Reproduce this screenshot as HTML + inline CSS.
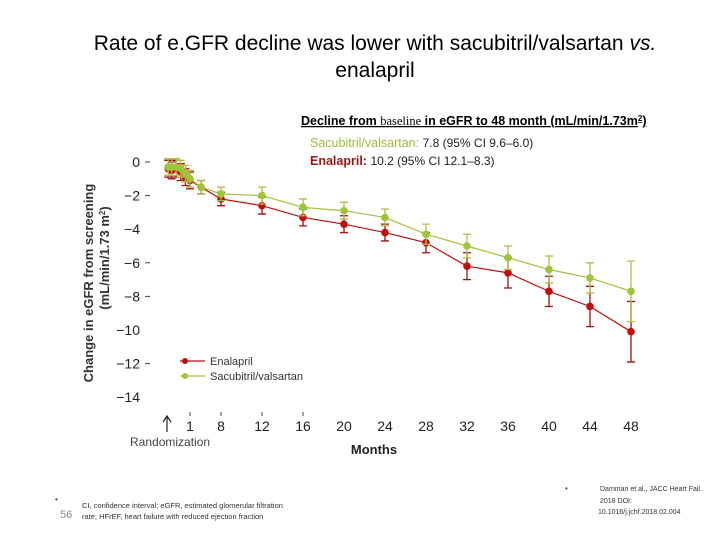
<!DOCTYPE html>
<html><head><meta charset="utf-8"><style>
body{margin:0;background:#fff;width:720px;height:540px;overflow:hidden;font-family:"Liberation Sans",sans-serif}
svg{position:absolute;left:0;top:0}
</style></head><body>
<svg width="720" height="540">
<g id="chart"></g>
</svg>
<script>
const months=[0.05,0.2,0.4,0.6,0.8,1,3.5,8,12,16,20,24,28,32,36,40,44,48];
const sacValues=[-0.3,-0.3,-0.3,-0.4,-0.7,-1.0,-1.5,-1.9,-2.0,-2.7,-2.9,-3.3,-4.3,-5.0,-5.7,-6.4,-6.9,-7.7];
const sacErr=[0.5,0.5,0.5,0.5,0.5,0.5,0.4,0.4,0.5,0.5,0.5,0.5,0.6,0.7,0.7,0.8,0.9,1.8];
const enaValues=[-0.4,-0.5,-0.4,-0.6,-0.9,-1.1,-1.5,-2.2,-2.6,-3.3,-3.7,-4.2,-4.8,-6.2,-6.6,-7.7,-8.6,-10.1];
const enaErr=[0.5,0.5,0.5,0.5,0.5,0.5,0.4,0.4,0.5,0.5,0.5,0.5,0.6,0.8,0.9,0.9,1.2,1.8];
const xTicks=[1,8,12,16,20,24,28,32,36,40,44,48];
const yTicks=[0,-2,-4,-6,-8,-10,-12,-14];
const yDash=[0,-2,-6,-8,-12];

const kM=[0,1,8,12,48],kP=[167,190,221,262,631];
function xs(m){for(let i=0;i<kM.length-1;i++){if(m<=kM[i+1]||i==kM.length-2){return kP[i]+(m-kM[i])*(kP[i+1]-kP[i])/(kM[i+1]-kM[i]);}}}
function ys(v){return 162-v*16.8;}
const NS='http://www.w3.org/2000/svg';
const g=document.getElementById('chart');
function el(t,a,txt){const e=document.createElementNS(NS,t);for(const k in a)e.setAttribute(k,a[k]);if(txt!=null)e.textContent=txt;g.appendChild(e);return e;}

let e;
e=el('text',{x:375,y:50,'font-size':21,'text-anchor':'middle',fill:'#000'});
e.innerHTML='Rate of e.GFR decline was lower with sacubitril/valsartan <tspan font-style="italic">vs.</tspan>';


e=el('text',{x:375,y:77,'font-size':21,'text-anchor':'middle',fill:'#000'},'enalapril');



e=el('text',{x:301,y:125,'font-size':12.5,'font-weight':'bold','text-decoration':'underline',fill:'#000'});
e.innerHTML='Decline from <tspan font-weight="normal" font-family="Liberation Serif">baseline</tspan> in eGFR to 48 month (mL/min/1.73m<tspan font-size="8" dy="-4">2</tspan><tspan dy="4">)</tspan>';


e=el('text',{x:310,y:147,'font-size':12.5,fill:'#9bbb3b'});
e.innerHTML='Sacubitril/valsartan: <tspan fill="#222" font-size="12">7.8 (95% CI 9.6–6.0)</tspan>';


e=el('text',{x:310,y:165,'font-size':12.5,'font-weight':'bold',fill:'#9b1414'});
e.innerHTML='Enalapril: <tspan fill="#222" font-weight="normal" font-size="12">10.2 (95% CI 12.1–8.3)</tspan>';



yTicks.forEach(v=>{
 const t=el('text',{x:140,y:ys(v)+5,'font-size':14,'text-anchor':'end',fill:'#222'},String(v).replace('-','−'));
 
 
});
yDash.forEach(v=>{
 const l=el('line',{x1:145,x2:150,y1:ys(v),y2:ys(v),stroke:'#444','stroke-width':1});
 
 
});
e=el('text',{transform:'translate(93,283) rotate(-90)','font-size':13,'font-weight':'bold','text-anchor':'middle',fill:'#333'},'Change in eGFR from screening');


e=el('text',{transform:'translate(109,258) rotate(-90)','font-size':13,'font-weight':'bold','text-anchor':'middle',fill:'#333'});
e.innerHTML='(mL/min/1.73 m<tspan font-size="8" dy="-4">2</tspan><tspan dy="4">)</tspan>';



xTicks.forEach(m=>{
 const t=el('text',{x:xs(m),y:431,'font-size':14,'text-anchor':'middle',fill:'#222'},String(m));
 
 
 if(m<=16){const l=el('line',{x1:xs(m),x2:xs(m),y1:412,y2:416,stroke:'#444'});
 
 }
});
e=el('path',{d:'M167,432 L167,417 M163,422 L167,416 L171,422',stroke:'#222',fill:'none','stroke-width':1.2});


e=el('text',{x:130,y:446,'font-size':12,fill:'#444'},'Randomization');


e=el('text',{x:374,y:454,'font-size':13,'font-weight':'bold','text-anchor':'middle',fill:'#222'},'Months');



function series(vals,errs,color,capColor,name){
 const pts=months.map((m,i)=>xs(m)+','+ys(vals[i])).join(' ');
 const p=el('polyline',{points:pts,fill:'none',stroke:color,'stroke-width':1.2});
 
 
 months.forEach((m,i)=>{
  const x=xs(m),y1=ys(vals[i]+errs[i]),y2=ys(vals[i]-errs[i]);
  const b=el('path',{d:`M${x},${y1}L${x},${y2}M${x-4},${y1}L${x+4},${y1}M${x-4},${y2}L${x+4},${y2}`,stroke:capColor,'stroke-width':1.3,fill:'none'});
  
  
 });
 months.forEach((m,i)=>{
  const c=el('circle',{cx:xs(m),cy:ys(vals[i]),r:3.8,fill:color});
  
  
 });
}
series(enaValues,enaErr,'#c00d0d','#9b1010','enalapril');
series(sacValues,sacErr,'#9fc43a','#b8b84a','sacubitril');

[[361,'#c00d0d','Enalapril','legend-enalapril'],[376,'#9fc43a','Sacubitril/valsartan','legend-sacubitril']].forEach(r=>{
 const l=el('line',{x1:180,x2:205,y1:r[0],y2:r[0],stroke:r[1],'stroke-width':1.2});
 
 
 const c=el('circle',{cx:185,cy:r[0],r:3,fill:r[1]});
 
 
 const t=el('text',{x:210,y:r[0]+4,'font-size':11,fill:'#333'},r[2]);
 
 
});

e=el('text',{x:55,y:502,'font-size':8,fill:'#444'},'•');


e=el('text',{x:60,y:518,'font-size':11,fill:'#888'},'56');


e=el('text',{x:82,y:508,'font-size':7.5,fill:'#333'},'CI, confidence interval; eGFR, estimated glomerular filtration');


e=el('text',{x:82,y:519,'font-size':7.5,fill:'#333'},'rate; HFrEF, heart failure with reduced ejection fraction');


e=el('text',{x:565,y:491,'font-size':8,fill:'#444'},'•');


[['Damman et al., JACC Heart Fail.',491],['2018 DOI:',503],['10.1016/j.jchf.2018.02.004',514]].forEach(r=>{
 const t=el('text',{x:r[1]==514?598:600,y:r[1],'font-size':7,fill:'#333'},r[0]);
 
 
});
</script>
</body></html>
